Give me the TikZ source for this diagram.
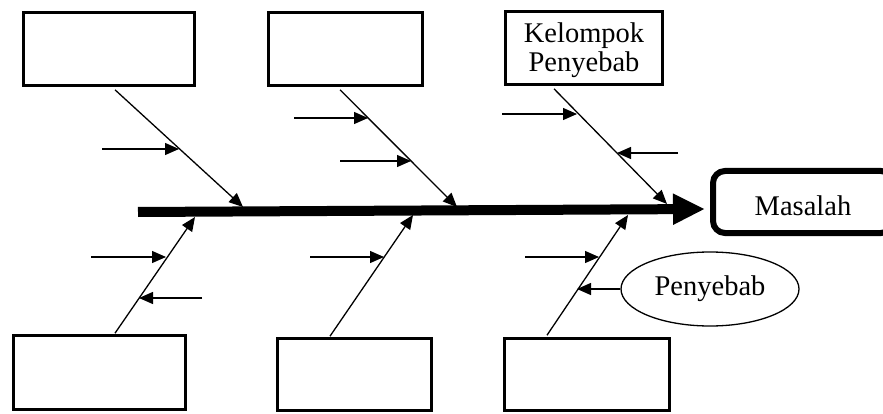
\documentclass[tikz,border=0pt]{standalone}
\usepackage{fontspec}
\setmainfont{Liberation Serif}
\usetikzlibrary{arrows.meta,shapes.geometric}
\begin{document}
\begin{tikzpicture}[x=1pt,y=-1pt,
  catbox/.style={draw, line width=2.6pt, rectangle, inner sep=0pt},
  branch/.style={line width=1.3pt, -{Triangle[length=14pt,width=12pt]}},
  sub/.style={line width=1.3pt, -{Triangle[length=14pt,width=12pt]}},
  spine/.style={line width=10pt, -{Triangle[length=32pt,width=29pt]}},
  lbl/.style={font=\fontsize{28.5}{29}\selectfont}
]
\clip (0,0) rectangle (883,414);
\fill[white] (0,0) rectangle (883,414);
% category boxes
\node[catbox, minimum width=171pt, minimum height=73pt] (top1) at (109,49) {};
\node[catbox, minimum width=154pt, minimum height=73pt] (top2) at (345.5,49) {};
\node[catbox, minimum width=157pt, minimum height=73pt, lbl, align=center] (top3) at (584,48) {\rule{0pt}{25pt}Kelompok\\Penyebab};
\node[catbox, minimum width=172pt, minimum height=74pt] (bot1) at (99.5,372.5) {};
\node[catbox, minimum width=154pt, minimum height=72pt] (bot2) at (354.5,374.5) {};
\node[catbox, minimum width=165pt, minimum height=72pt] (bot3) at (587,374.5) {};
% problem box
\node[draw, line width=6pt, rounded corners=12pt, minimum width=180pt, minimum height=62pt, inner sep=0pt, lbl, text height=26pt, text depth=0pt] (masalah) at (803,202) {Masalah};
% cause ellipse
\node[draw, ellipse, line width=1.3pt, minimum width=178pt, minimum height=74pt, inner sep=0pt, lbl] (ell) at (710,289) {Penyebab};
% spine
\coordinate (tail) at (138,212);
\coordinate (head) at (705,209);
\draw[spine] (tail) -- (head);
% branch tips on spine
\coordinate (t1) at (243,207);
\coordinate (t2) at (457,207);
\coordinate (t3) at (667,204);
\coordinate (t4) at (195,217);
\coordinate (t5) at (413,215);
\coordinate (t6) at (628,215);
\draw[branch] ([xshift=6pt,yshift=-3pt]top1.south) -- (t1);
\draw[branch] ([xshift=-5.5pt,yshift=-3pt]top2.south) -- (t2);
\draw[branch] ([xshift=-30pt,yshift=-3pt]top3.south) -- (t3);
\draw[branch] ([xshift=15.5pt,yshift=1pt]bot1.north) -- (t4);
\draw[branch] ([xshift=-24.5pt,yshift=1pt]bot2.north) -- (t5);
\draw[branch] ([xshift=-40pt,yshift=2pt]bot3.north) -- (t6);
% sub-cause arrows
\coordinate (a1s) at (102,149); \coordinate (a1e) at (179,149);
\coordinate (a2s) at (294,118); \coordinate (a2e) at (368,118);
\coordinate (a3s) at (340,161); \coordinate (a3e) at (411,161);
\coordinate (a4s) at (502,114); \coordinate (a4e) at (577,114);
\coordinate (a5s) at (678,153); \coordinate (a5e) at (617,153);
\coordinate (a6s) at (91,257);  \coordinate (a6e) at (166,257);
\coordinate (a7s) at (202,298); \coordinate (a7e) at (139,298);
\coordinate (a8s) at (310,257); \coordinate (a8e) at (384,257);
\coordinate (a9s) at (525,257); \coordinate (a9e) at (599,257);
\coordinate (a10e) at (577,289);
\foreach \i in {1,...,9} {\draw[sub] (a\i s) -- (a\i e);}
\draw[sub] (ell.west) -- (a10e);
\end{tikzpicture}
\end{document}
